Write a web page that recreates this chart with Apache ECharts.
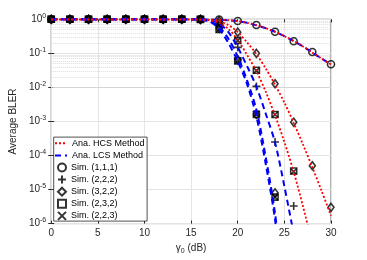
<!DOCTYPE html>
<html><head><meta charset="utf-8">
<script src="https://cdn.jsdelivr.net/npm/echarts@6/dist/echarts.min.js"></script>
<style>html,body{margin:0;padding:0;background:#fff}#c{width:367px;height:260px}</style>
</head><body><div id="c"></div><script>
// ---- data ----
const anaX = [0,1,2,3,4,5,6,7,8,9,10,11,12,13,14,15,16,17,18,19,20,21,22,23,24,25,26,27,28,29,30];
// analytical, HCS (red dotted)
const hcs111 = [1,1,1,1,1,1,1,1,1,1,1,1,1,1,1,1,0.998,0.99,0.975,0.94,0.88,0.79,0.67,0.55,0.43,0.32,0.23,0.16,0.105,0.07,0.047];
const hcs322 = [1,1,1,1,1,1,1,1,1,1,1,1,1,1,1,0.999,0.99,0.96,0.87,0.68,0.42,0.21,0.095,0.036,0.012,0.0036,9e-4,2.1e-4,4.5e-5,9e-6,1.7e-6];
const hcs232 = [1,1,1,1,1,1,1,1,1,1,1,1,1,1,1,0.998,0.98,0.93,0.78,0.52,0.25,0.09,0.03,0.0075,0.0015,2.5e-4,3.3e-5,3.2e-6,2.5e-7,null,null];
// analytical, LCS (blue dashed)
const lcs111 = [1,1,1,1,1,1,1,1,1,1,1,1,1,1,1,1,0.998,0.99,0.975,0.94,0.88,0.79,0.67,0.55,0.43,0.32,0.23,0.16,0.105,0.07,0.047];
const lcs222 = [1,1,1,1,1,1,1,1,1,1,1,1,1,1,1,0.998,0.99,0.95,0.75,0.42,0.15,0.042,0.0105,0.0017,2.4e-4,1.25e-5,5e-7,null,null,null,null];
const lcs322 = [1,1,1,1,1,1,1,1,1,1,1,1,1,1,1,0.997,0.98,0.88,0.6,0.27,0.08,0.016,0.0022,9e-5,2e-6,1e-8,null,null,null,null,null];
const lcs232 = [1,1,1,1,1,1,1,1,1,1,1,1,1,1,0.999,0.995,0.97,0.85,0.52,0.2,0.058,0.0125,0.0014,5.6e-5,1.3e-6,5e-9,null,null,null,null,null];
// simulation points
const simX = [0,2,4,6,8,10,12,14,16,18,20,22,24,26,28,30];
const sim111    = [1,1,1,1,1,1,1,1,1,0.98,0.89,0.68,0.43,0.226,0.11,0.048];
const sim222    = [1,1,1,1,1,1,1,1,1,0.72,0.15,0.0107,2.5e-4,3.3e-6,null,null];
const sim322hcs = [1,1,1,1,1,1,1,1,1,0.9,0.42,0.1,0.0128,9.5e-4,5e-5,3e-6];
const sim322lcs = [1,1,1,1,1,1,1,1,0.99,0.55,0.065,0.0016,8e-6,null,null,null];
const sim232hcs = [1,1,1,1,1,1,1,1,1,0.8,0.24,0.032,0.0016,3.5e-5,null,null];
const sim232lcs = [1,1,1,1,1,1,1,1,0.99,0.5,0.06,0.0016,6e-6,null,null,null];
const sim223hcs = [1,1,1,1,1,1,1,1,1,0.8,0.24,0.031,0.0016,3.4e-5,null,null];
const sim223lcs = [1,1,1,1,1,1,1,1,0.99,0.5,0.06,0.0017,6e-6,null,null,null];
const xTicks = [0,5,10,15,20,25,30];
const yDecades = [-6,-5,-4,-3,-2,-1,0];

const HCS = 'Ana. HCS Method', LCS = 'Ana. LCS Method';
const lineNames = [HCS, LCS];
const simNames = ['Sim. (1,1,1)', 'Sim. (2,2,2)', 'Sim. (3,2,2)', 'Sim. (2,3,2)', 'Sim. (2,2,3)'];

const FONT = 'Liberation Sans, Arial, Helvetica, sans-serif';
const pairs = (xs, ys) => xs.map((x, i) => [x, ys[i]]);
const simPairs = (ys) => simX.map((x, i) => [x, ys[i]]).filter(p => p[1] != null);

function redLine(ys){ return {type:'line', name:HCS, data:pairs(anaX, ys), symbol:'none', showSymbol:false, smooth:0.3, color:'#ff0000', z:4, lineStyle:{color:'#ff0000', width:1.8, type:[2,2]}, animation:false}; }
function blueLine(ys){ return {type:'line', name:LCS, data:pairs(anaX, ys), symbol:'none', showSymbol:false, smooth:0.3, color:'#0000ff', z:3, lineStyle:{color:'#0000ff', width:2, type:[6,4]}, animation:false}; }
const mk = {
  circle: {symbol:'circle', size:7},
  plus: {symbol:'path://M5,0 L5,10 M0,5 L10,5', size:8},
  diamond: {symbol:'diamond', size:[6,8]},
  square: {symbol:'rect', size:6},
  cross: {symbol:'path://M0,0 L10,10 M0,10 L10,0', size:6}
};
function sim(name, ys, m){ return {type:'scatter', name, data:simPairs(ys), symbol:mk[m].symbol, symbolSize:mk[m].size, z:2, color:'#000',
  itemStyle:{color:'rgba(0,0,0,0)', borderColor:'#000', borderWidth:1.6}, animation:false}; }

// minor grid lines (log decades 2..9)
const minorLines = [];
yDecades.slice(0,-1).forEach(k => { for (let m = 2; m <= 9; m++) minorLines.push({yAxis: m * Math.pow(10, k)}); });

const axisCol = '#262626';
const legendText = {fontSize:9, lineHeight:10, color:'#000', fontFamily:FONT};
const option = {
  animation:false,
  grid:{left:47.7, right:36, top:19.3, bottom:32.3, show:true, borderColor:'#3a3a3a', borderWidth:0.8, backgroundColor:'#fff'},
  graphic:[{type:'rect', left:53.3, top:136.7, z:9, shape:{width:93.4, height:84},
    style:{fill:'#fff', stroke:'#262626', lineWidth:0.8}}],
  legend:[
    {data:lineNames, orient:'vertical', left:54, top:138.3, itemWidth:12, itemHeight:8, itemGap:2.1,
      padding:0, z:10, itemStyle:{opacity:0}, textStyle:legendText},
    {data:simNames, orient:'vertical', left:57, top:162.5, itemWidth:8, itemHeight:8, itemGap:2.1,
      padding:0, z:10, textStyle:legendText}
  ],
  xAxis:[{type:'value', min:0, max:30, interval:5,
    name:'{g|γ}{s|0}{g| (dB)}', nameLocation:'middle', nameGap:13,
    nameTextStyle:{fontFamily:FONT, color:axisCol, rich:{g:{fontSize:10, fontFamily:FONT, color:axisCol}, s:{fontSize:7, fontFamily:FONT, color:axisCol, padding:[6,0,0,0]}}},
    axisLine:{show:false}, axisTick:{inside:true, length:3, lineStyle:{color:axisCol}},
    axisLabel:{fontSize:10, color:axisCol, fontFamily:FONT, margin:5},
    splitLine:{show:true, lineStyle:{color:'#e4e4e4', width:1}}},
   {type:'value', position:'top', min:0, max:30, interval:5, axisLine:{show:false}, axisLabel:{show:false},
    axisTick:{inside:true, length:3, lineStyle:{color:axisCol}}, splitLine:{show:false}}],
  yAxis:[{type:'log', logBase:10, min:1e-6, max:1,
    name:'Average BLER', nameLocation:'middle', nameGap:24,
    nameTextStyle:{fontSize:10, color:axisCol, fontFamily:FONT},
    axisLine:{show:false}, axisTick:{inside:true, length:3, lineStyle:{color:axisCol}},
    axisLabel:{margin:5, color:axisCol, fontFamily:FONT,
      formatter: v => '{b|10}{s|' + Math.round(Math.log10(v)) + '}',
      rich:{b:{fontSize:10, lineHeight:12, fontFamily:FONT, color:axisCol}, s:{fontSize:7, lineHeight:8, padding:[0,0,7,0], fontFamily:FONT, color:axisCol}}},
    splitLine:{show:true, lineStyle:{color:'#e4e4e4', width:1}}},
   {type:'log', logBase:10, min:1e-6, max:1, position:'right', axisLine:{show:false}, axisLabel:{show:false},
    axisTick:{inside:true, length:3, lineStyle:{color:axisCol}}, splitLine:{show:false}}],
  series:[
    {type:'scatter', name:'', data:[], silent:true, z:1,
      markLine:{silent:true, symbol:'none', label:{show:false}, z:1, animation:false,
        lineStyle:{color:'#d2d2d2', width:0.8, type:[1,1]}, data:minorLines}},
    sim('Sim. (1,1,1)', sim111, 'circle'),
    sim('Sim. (2,2,2)', sim222, 'plus'),
    sim('Sim. (3,2,2)', sim322hcs, 'diamond'),
    sim('Sim. (3,2,2)', sim322lcs, 'diamond'),
    sim('Sim. (2,3,2)', sim232hcs, 'square'),
    sim('Sim. (2,3,2)', sim232lcs, 'square'),
    sim('Sim. (2,2,3)', sim223hcs, 'cross'),
    sim('Sim. (2,2,3)', sim223lcs, 'cross'),
    blueLine(lcs111), blueLine(lcs222), blueLine(lcs322), blueLine(lcs232),
    redLine(hcs111), redLine(hcs322), redLine(hcs232)
  ]
};
const chart = echarts.init(document.getElementById('c'), null, {renderer:'canvas'});
chart.setOption(option);
</script></body></html>
